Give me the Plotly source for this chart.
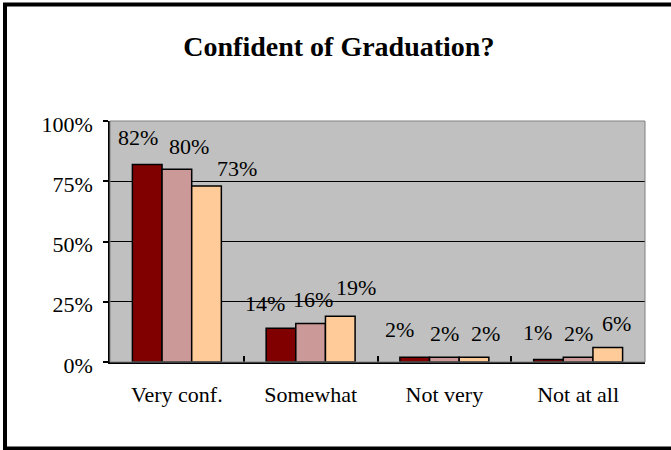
import plotly.graph_objects as go

categories = ["Very conf.", "Somewhat", "Not very", "Not at all"]
series_a = [82, 14, 2, 1]
series_b = [80, 16, 2, 2]
series_c = [73, 19, 2, 6]
y_ticks = [0, 25, 50, 75, 100]
y_tick_labels = ["0%", "25%", "50%", "75%", "100%"]

colors = ["#800000", "#CC9999", "#FFCC99"]
# label pixel offsets (style only): per series, per category
label_dx = [[-9, -16, -15, -11], [12, 2, 0, 0], [30, 16, 11, 9]]
label_dy = [[27, 25, 28, 27], [23, 24, 24, 24], [18, 29, 24, 24]]

FONT = "Liberation Serif"
W, H = 671, 450
ML, MR, MT, MB = 110, 26, 121, 88
bargap = 0.335
barw = (1 - bargap) / 3

fig = go.Figure()
all_series = [series_a, series_b, series_c]
for s, vals in enumerate(all_series):
    fig.add_trace(go.Bar(
        x=categories, y=vals, marker=dict(color=colors[s], line=dict(color="black", width=1.5)),
        showlegend=False, hoverinfo="skip"))

for s, vals in enumerate(all_series):
    for i, v in enumerate(vals):
        fig.add_annotation(
            x=i + (s - 1) * barw, y=v, xref="x", yref="y", text=f"{v}%", showarrow=False,
            xanchor="center", yanchor="middle", xshift=label_dx[s][i], yshift=label_dy[s][i],
            font=dict(family=FONT, size=22, color="black"))

pw = W - ML - MR
ph = H - MT - MB
def px2paper_x(px):
    return (px - ML) / pw
def px2paper_y(py):
    return (H - MB - py) / ph

shapes = [
    # plot-area border (gray)
    dict(type="rect", xref="paper", yref="paper", x0=0, x1=1, y0=0, y1=1,
         line=dict(color="#808080", width=1), fillcolor="rgba(0,0,0,0)", layer="above"),
    # outer frame
    dict(type="rect", xref="paper", yref="paper",
         x0=px2paper_x(5), x1=px2paper_x(690), y0=px2paper_y(448.5), y1=px2paper_y(4.5),
         line=dict(color="black", width=4), fillcolor="rgba(0,0,0,0)"),
]

fig.update_layout(
    width=W, height=H,
    margin=dict(l=ML, r=MR, t=MT, b=MB),
    paper_bgcolor="white", plot_bgcolor="#C0C0C0",
    barmode="group", bargap=bargap, bargroupgap=0,
    title=dict(text="<b>Confident of Graduation?</b>", x=0.505, xref="container", xanchor="center",
               y=1 - 46 / H, yref="container", yanchor="middle",
               font=dict(family=FONT, size=28, color="black")),
    font=dict(family=FONT, size=22, color="black"),
    shapes=shapes,
)
fig.update_yaxes(range=[0, 100], tickvals=y_ticks, ticktext=y_tick_labels,
                 showgrid=True, gridcolor="black", gridwidth=1,
                 showline=True, linecolor="black", linewidth=1.5,
                 ticks="outside", ticklen=5, tickcolor="black", tickwidth=1.5,
                 ticklabelstandoff=6, ticklabelshift=3,
                 tickfont=dict(family=FONT, size=22, color="black"), zeroline=False)
fig.update_xaxes(showline=True, linecolor="black", linewidth=1.5,
                 ticks="inside", tickson="boundaries", ticklen=6, tickcolor="black", tickwidth=1.5,
                 ticklabelstandoff=12,
                 tickfont=dict(family=FONT, size=22, color="black"), showgrid=False)

fig.write_html("out.html", config={"displayModeBar": False},
               post_script="document.body.style.margin='0';document.body.style.padding='0';")
